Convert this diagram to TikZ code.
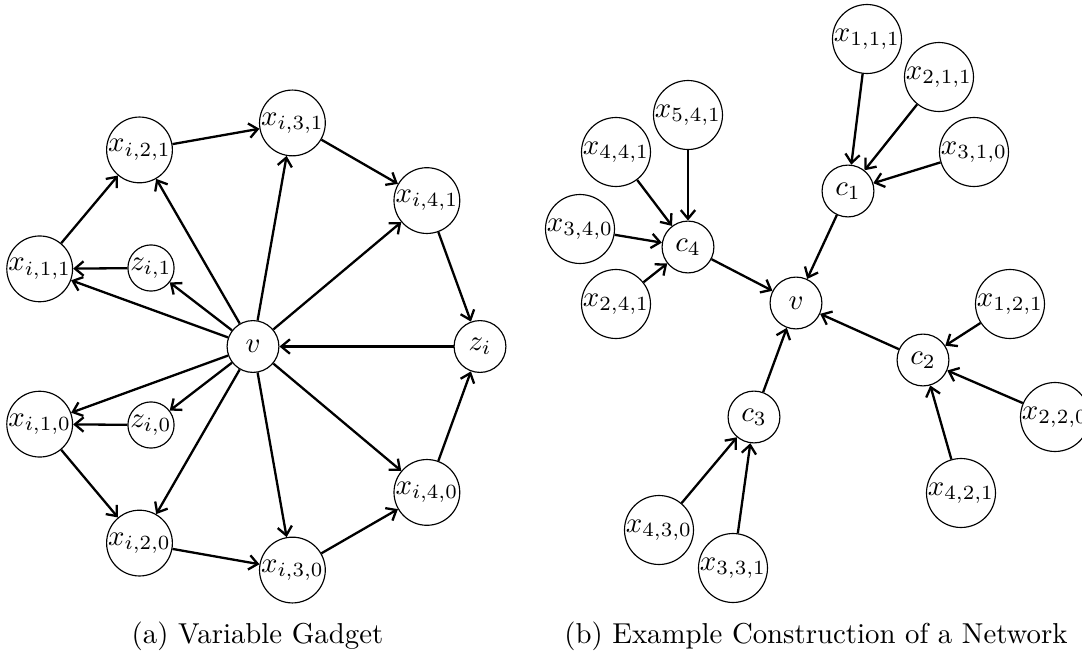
\documentclass[tikz,border=0pt]{standalone}
\usepackage{amsmath}
\usepackage{amssymb}
\usepackage{tikz}
\usetikzlibrary{arrows.meta}

\begin{document}
\begin{tikzpicture}[
    x=0.3472pt, y=0.3472pt,
    main node/.style={circle,draw,inner sep=0pt,minimum size=18pt},
    small node/.style={circle,draw,inner sep=0pt},
    edge/.style={-{Straight Barb[length=3pt,width=5pt]},thick}
]
    \useasboundingbox (0,0) rectangle (1082,650);

    % (a) variable gadget
    \def\R{227}
    \begin{scope}[shift={(253,303.5)}]
    \node[main node] (v) at (0,0) {$v$};
    \node[main node] (z) at (0:\R) {$z_i$};
    \node[main node] (x41) at (40:\R) {$x_{i,4,1}$};
    \node[main node] (x31) at (80:\R) {$x_{i,3,1}$};
    \node[main node] (x21) at (120:\R) {$x_{i,2,1}$};
    \node[main node] (x11) at (160:\R) {$x_{i,1,1}$};
    \node[main node] (x10) at (200:\R) {$x_{i,1,0}$};
    \node[main node] (x20) at (240:\R) {$x_{i,2,0}$};
    \node[main node] (x30) at (280:\R) {$x_{i,3,0}$};
    \node[main node] (x40) at (320:\R) {$x_{i,4,0}$};
    \node[small node] (z1) at (-102,78.5) {$z_{i,1}$};
    \node[small node] (z0) at (-102,-78.5) {$z_{i,0}$};
    \end{scope}

    \draw[edge] (x11) -- (x21);
    \draw[edge] (x21) -- (x31);
    \draw[edge] (x31) -- (x41);
    \draw[edge] (x41) -- (z);
    \draw[edge] (x10) -- (x20);
    \draw[edge] (x20) -- (x30);
    \draw[edge] (x30) -- (x40);
    \draw[edge] (x40) -- (z);
    \draw[edge] (z) -- (v);
    \draw[edge] (z1) -- (x11);
    \draw[edge] (z0) -- (x10);
    \draw[edge] (v) -- (x11);
    \draw[edge] (v) -- (z1);
    \draw[edge] (v) -- (x21);
    \draw[edge] (v) -- (x31);
    \draw[edge] (v) -- (x41);
    \draw[edge] (v) -- (x10);
    \draw[edge] (v) -- (z0);
    \draw[edge] (v) -- (x20);
    \draw[edge] (v) -- (x30);
    \draw[edge] (v) -- (x40);

    \node[anchor=base] (capa) at (257.5,7) {(a) Variable Gadget};

    % (b) example network
    \node[main node] (w) at (796,347) {$v$};
    \node[main node] (c1) at (848,459) {$c_1$};
    \node[main node] (c2) at (923,290) {$c_2$};
    \node[main node] (c3) at (754,233) {$c_3$};
    \node[main node] (c4) at (688,403) {$c_4$};
    \node[main node] (y111) at (867,611) {$x_{1,1,1}$};
    \node[main node] (y211) at (939,573) {$x_{2,1,1}$};
    \node[main node] (y310) at (974,498) {$x_{3,1,0}$};
    \node[main node] (y121) at (1010,346) {$x_{1,2,1}$};
    \node[main node] (y220) at (1055,233) {$x_{2,2,0}$};
    \node[main node] (y421) at (961,157) {$x_{4,2,1}$};
    \node[main node] (y430) at (659,120) {$x_{4,3,0}$};
    \node[main node] (y331) at (733,82) {$x_{3,3,1}$};
    \node[main node] (y541) at (688,535) {$x_{5,4,1}$};
    \node[main node] (y441) at (616,498) {$x_{4,4,1}$};
    \node[main node] (y340) at (580,421) {$x_{3,4,0}$};
    \node[main node] (y241) at (616,346) {$x_{2,4,1}$};

    \draw[edge] (y111) -- (c1);
    \draw[edge] (y211) -- (c1);
    \draw[edge] (y310) -- (c1);
    \draw[edge] (y121) -- (c2);
    \draw[edge] (y220) -- (c2);
    \draw[edge] (y421) -- (c2);
    \draw[edge] (y430) -- (c3);
    \draw[edge] (y331) -- (c3);
    \draw[edge] (y541) -- (c4);
    \draw[edge] (y441) -- (c4);
    \draw[edge] (y340) -- (c4);
    \draw[edge] (y241) -- (c4);
    \draw[edge] (c1) -- (w);
    \draw[edge] (c2) -- (w);
    \draw[edge] (c3) -- (w);
    \draw[edge] (c4) -- (w);

    \node[anchor=base] (capb) at (816,7) {(b) Example Construction of a Network};
\end{tikzpicture}
\end{document}
